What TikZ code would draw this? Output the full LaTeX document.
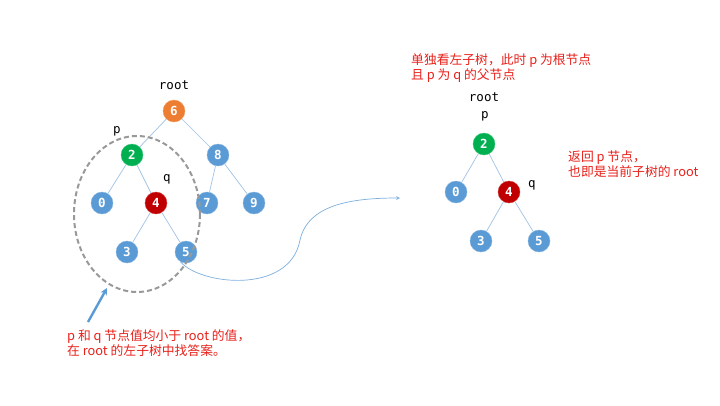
\documentclass[tikz,border=0pt]{standalone}
\usepackage{fontspec}
\setmainfont{Noto Sans CJK SC}
\newfontfamily\codefont{DejaVu Sans Mono}
\usepackage{xcolor}
\usetikzlibrary{arrows.meta}
\definecolor{nodeblue}{HTML}{5B9BD5}
\definecolor{rootorange}{HTML}{ED7D31}
\definecolor{pgreen}{HTML}{00B050}
\definecolor{qred}{HTML}{C00000}
\definecolor{edgeblue}{HTML}{A0C2E4}
\definecolor{notered}{HTML}{E8201A}

\begin{document}
\begin{tikzpicture}[x=1pt, y=-1pt, >=stealth,
    tn/.style={circle, fill=#1, draw=#1!75!white, thin, inner sep=0pt, minimum size=22pt,
      text=white, font=\codefont\bfseries\fontsize{12.5}{12.5}\selectfont},
    tn/.default=nodeblue,
    lbl/.style={inner sep=1pt, font=\codefont\fontsize{12.5}{14}\selectfont},
    note/.style={text=notered, align=left, anchor=west, inner sep=0pt,
      font=\fontsize{12.8}{15}\selectfont},
    link/.style={draw=edgeblue, line width=0.7pt}]
    \useasboundingbox (0,0) rectangle (720,405);

    \node[lbl] (rootA) at (174,85) {root};
    \node[tn=rootorange] (a6) at (174,111) {6};
    \node[tn=pgreen] (a2) at (132,155) {2};
    \node[tn] (a8) at (218,155) {8};
    \node[tn] (a0) at (102,203) {0};
    \node[tn=qred] (a4) at (156,203) {4};
    \node[tn] (a7) at (207,203) {7};
    \node[tn] (a9) at (254,203) {9};
    \node[tn] (a3) at (127,252) {3};
    \node[tn] (a5) at (186,252) {5};
    \node[lbl] (pA) at (117,131) {p};
    \node[lbl] (qA) at (167,179) {q};
    \draw[link] (a6) -- (a2);
    \draw[link] (a6) -- (a8);
    \draw[link] (a2) -- (a0);
    \draw[link] (a2) -- (a4);
    \draw[link] (a4) -- (a3);
    \draw[link] (a4) -- (a5);
    \draw[link] (a8) -- (a7);
    \draw[link] (a8) -- (a9);

    \draw[dashed, dash pattern=on 5pt off 3pt, line width=2pt, black!40] (137,214) ellipse [x radius=63, y radius=78];
    \coordinate (tail) at (88,322);
    \coordinate (tip) at (107,288);
    \draw[-{Stealth[length=7pt,width=7pt]}, nodeblue, line width=2.4pt] (tail) -- (tip);
    \node[note] (noteA) at (67,343) {p 和 q 节点值均小于 root 的值，\\在 root 的左子树中找答案。};

    \coordinate (jump) at (400,198);
    \draw[->, nodeblue!80, line width=0.7pt] (a5.240) .. controls (200,285) and (290,295) .. (300,240)
      .. controls (308,205) and (350,198) .. (jump);

    \node[note] (noteB) at (411,68) {单独看左子树，此时 p 为根节点\\且 p 为 q 的父节点};
    \node[lbl] (rootB) at (484,97) {root};
    \node[lbl] (pB) at (485,116) {p};
    \node[tn=pgreen] (b2) at (484,144) {2};
    \node[tn] (b0) at (456,192) {0};
    \node[tn=qred] (b4) at (509,192) {4};
    \node[tn] (b3) at (481,241) {3};
    \node[tn] (b5) at (539,241) {5};
    \node[lbl] (qB) at (532,185) {q};
    \draw[link] (b2) -- (b0);
    \draw[link] (b2) -- (b4);
    \draw[link] (b4) -- (b3);
    \draw[link] (b4) -- (b5);
    \node[note] (noteC) at (568,164) {返回 p 节点，\\也即是当前子树的 root};
\end{tikzpicture}
\end{document}
